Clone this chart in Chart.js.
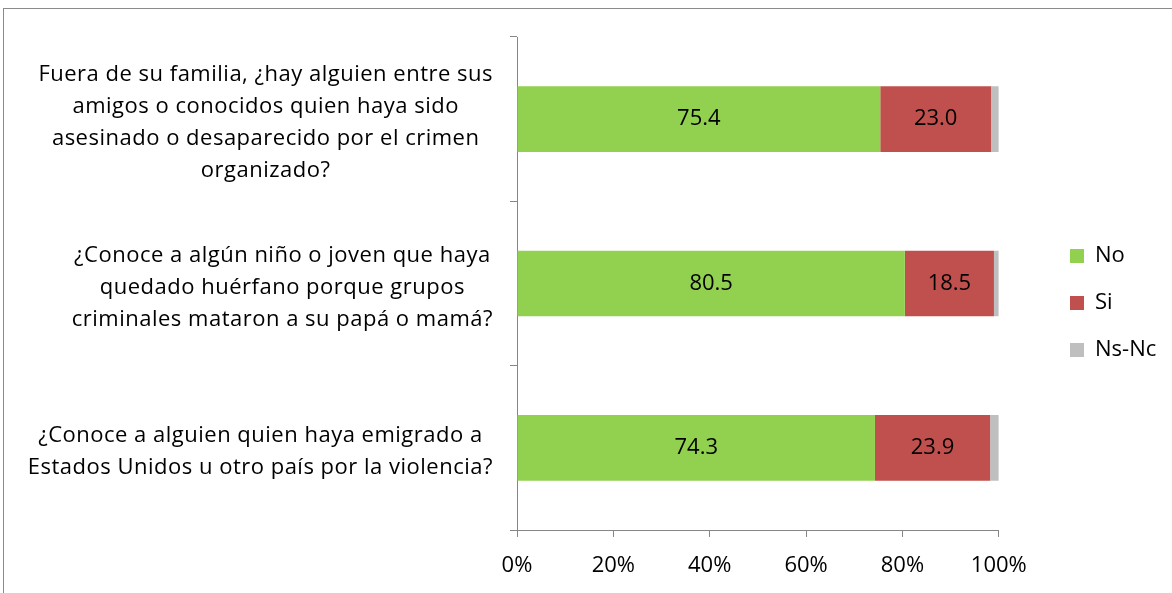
<!DOCTYPE html>
<html>
<head>
<meta charset="utf-8">
<script src="https://cdn.jsdelivr.net/npm/chart.js@4.4.1/dist/chart.umd.min.js"></script>
<style>
  html, body { margin: 0; padding: 0; background: #fff; overflow: hidden; }
  #frame {
    position: absolute; left: 3px; top: 8px; width: 1400px; height: 800px;
    border-top: 1px solid #8a8a8a; border-left: 1px solid #8a8a8a;
  }
  #wrap { position: absolute; left: 0; top: 0; width: 1172px; height: 593px; }
</style>
</head>
<body>
<div id="frame"></div>
<div id="wrap"><canvas id="myChart" width="1172" height="593"></canvas></div>
<script>
const questions = [
    ['Fuera de su familia, ¿hay alguien entre sus', 'amigos o conocidos quien haya sido', 'asesinado o desaparecido por el crimen', 'organizado?'],
    ['¿Conoce a algún niño o joven que haya', 'quedado huérfano porque grupos', 'criminales mataron a su papá o mamá?'],
    ['¿Conoce a alguien quien haya emigrado a', 'Estados Unidos u otro país por la violencia?']
]
const noValues = [75.4, 80.5, 74.3]
const siValues = [23.0, 18.5, 23.9]
const nsncValues = [1.6, 1.0, 1.8]
const xTicks = [0, 20, 40, 60, 80, 100]

const FONT = 'Open Sans'
const FONT_SIZE = 22
const axisGray = '#868686'

// question text: lines centred on each other, block pushed against the axis
const questionLabels = {
    id: 'questionLabels',
    afterDraw(chart) {
        const yScale = chart.scales.y
        const ctx = chart.ctx
        ctx.save()
        ctx.font = FONT_SIZE + 'px ' + FONT
        ctx.letterSpacing = '0.5px'
        ctx.fillStyle = '#000'
        ctx.textAlign = 'center'
        ctx.textBaseline = 'middle'
        const lineGap = 32
        questions.forEach((lines, i) => {
            const yc = yScale.getPixelForValue(i) + 4
            const blockW = Math.max(...lines.map(l => ctx.measureText(l).width))
            const cx = yScale.right - 24 - blockW / 2
            const y0 = yc - (lines.length - 1) * lineGap / 2
            lines.forEach((l, j) => ctx.fillText(l, cx, y0 + j * lineGap))
        })
        ctx.restore()
    }
}

// value written in the middle of the No and Si segments
const segmentValues = {
    id: 'segmentValues',
    afterDatasetsDraw(chart) {
        const ctx = chart.ctx
        ctx.save()
        ctx.font = FONT_SIZE + 'px ' + FONT
        ctx.fillStyle = '#000'
        ctx.textAlign = 'center'
        ctx.textBaseline = 'middle'
        ;[0, 1].forEach(d => {
            const meta = chart.getDatasetMeta(d)
            meta.data.forEach((bar, i) => {
                const p = bar.getCenterPoint()
                ctx.fillText(chart.data.datasets[d].data[i].toFixed(1), p.x, p.y)
            })
        })
        ctx.restore()
    }
}

// keep the legend a little away from the plot, towards the right edge
const legendShift = {
    id: 'legendShift',
    afterLayout(chart) {
        const lg = chart.legend
        const dx = 1045 - lg.left
        lg.left += dx
        lg.right += dx
        lg.top -= 12
        lg.bottom -= 12
    }
}

const ctx = document.getElementById('myChart').getContext('2d')
const chart = new Chart(ctx, {
    type: 'bar',
    data: {
        labels: questions,
        datasets: [
            { label: 'No', data: noValues, backgroundColor: '#92D050' },
            { label: 'Si', data: siValues, backgroundColor: '#C0504D' },
            { label: 'Ns-Nc', data: nsncValues, backgroundColor: '#BFBFBF' }
        ]
    },
    options: {
        indexAxis: 'y',
        responsive: false,
        animation: false,
        barPercentage: 0.4,
        categoryPercentage: 1.0,
        layout: { padding: { top: 37, bottom: 0, left: 0, right: 52 } },
        scales: {
            x: {
                stacked: true,
                min: 0,
                max: 100,
                afterBuildTicks: scale => { scale.ticks = xTicks.map(v => ({ value: v })) },
                afterFit: scale => { scale.height = 63 },
                ticks: {
                    color: '#000',
                    padding: 16,
                    font: { family: FONT, size: FONT_SIZE },
                    callback: v => v + '%'
                },
                grid: { drawOnChartArea: false, color: axisGray, tickLength: 7 },
                border: { color: axisGray }
            },
            y: {
                stacked: true,
                afterFit: scale => { scale.width = 517 },
                ticks: { display: false },
                grid: { drawOnChartArea: false, offset: true, color: axisGray, tickLength: 7 },
                border: { color: axisGray }
            }
        },
        plugins: {
            tooltip: { enabled: false },
            legend: {
                position: 'right',
                labels: {
                    color: '#000',
                    boxWidth: 14,
                    boxHeight: 14,
                    padding: 25,
                    font: { family: FONT, size: FONT_SIZE }
                }
            }
        }
    },
    plugins: [questionLabels, segmentValues, legendShift]
})
</script>
</body>
</html>
